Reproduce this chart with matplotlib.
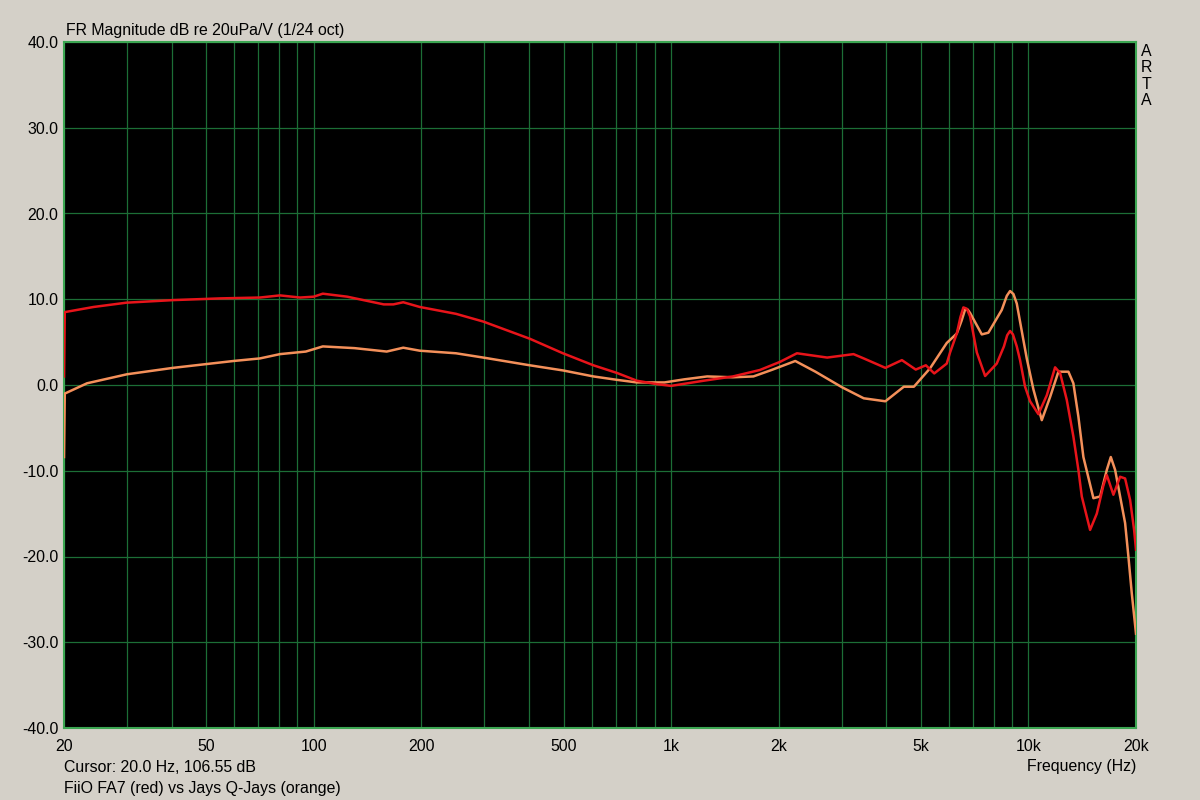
import matplotlib
matplotlib.use("Agg")
import matplotlib.pyplot as plt
from matplotlib.ticker import FixedLocator, NullFormatter, NullLocator

plt.rcParams['font.family'] = ['Liberation Sans', 'DejaVu Sans']

# ---- data ----
red_freq = [20, 20.1, 24.2, 29.9, 40.4, 54.7, 70.7, 80.4, 91.6, 100, 106, 124, 157, 167, 178, 198,
            250, 298, 402, 498, 606, 706, 802, 912, 1000, 1234, 1490, 1772, 2018, 2250, 2734, 3240,
            3460, 3978, 4425, 4838, 5164, 5450, 5908, 6036, 6302, 6450, 6576, 6720, 6866, 7170,
            7565, 8154, 8540, 8720, 8884, 9050, 9276, 9474, 9786, 10106, 10662, 11256, 11874,
            12264, 12804, 13358, 13798, 14104, 14878, 15536, 16212, 16570, 17290, 18054, 18644,
            19254, 19758, 20000]
red_db = [1.0, 8.5, 9.1, 9.6, 9.9, 10.1, 10.2, 10.45, 10.2, 10.3, 10.65, 10.3, 9.4, 9.4, 9.65, 9.1,
          8.3, 7.4, 5.4, 3.7, 2.3, 1.4, 0.5, 0.1, -0.1, 0.5, 1.0, 1.75, 2.7, 3.7, 3.2, 3.6,
          3.1, 2.0, 2.9, 1.8, 2.3, 1.35, 2.5, 3.8, 6.0, 7.9, 9.05, 8.9, 8.0, 3.8,
          1.05, 2.5, 4.5, 5.8, 6.3, 5.9, 4.5, 2.9, -0.2, -1.9, -3.4, -1.2, 2.06,
          1.4, -1.75, -6.0, -9.9, -13.0, -16.9, -15.0, -11.7, -10.5, -12.8, -10.7, -10.9,
          -13.4, -16.9, -19.2]

orange_freq = [20, 20.1, 23.2, 30, 40.4, 59.6, 70.7, 80.4, 95, 106, 130, 160, 178, 198, 250, 298,
               402, 498, 606, 706, 802, 958, 1089, 1262, 1490, 1700, 1910, 2226, 2535, 3010, 3460,
               3978, 4480, 4780, 5306, 5908, 6302, 6500, 6649, 6760, 6866, 7404, 7726, 8420, 8700,
               8884, 9080, 9276, 9680, 9892, 10324, 10898, 11498, 12130, 12938, 13358, 13798, 14250,
               15200, 15870, 16570, 17002, 17482, 18054, 18644, 19044, 19464, 20000]
orange_db = [-8.4, -1.0, 0.2, 1.25, 2.0, 2.8, 3.1, 3.6, 3.9, 4.5, 4.3, 3.9, 4.35, 4.0, 3.7, 3.2,
             2.3, 1.7, 1.0, 0.6, 0.3, 0.3, 0.66, 1.0, 0.9, 1.0, 1.75, 2.8, 1.55, -0.27, -1.55,
             -1.9, -0.2, -0.2, 1.95, 4.9, 6.0, 7.5, 8.8, 8.8, 8.4, 5.9, 6.1, 8.75, 10.4,
             10.96, 10.6, 9.5, 5.25, 3.1, -0.5, -4.1, -1.4, 1.55, 1.55, 0.2, -3.7, -8.4,
             -13.2, -13.0, -9.9, -8.4, -9.9, -13.0, -16.1, -20.0, -24.3, -29.0]

xtick_vals = [20, 50, 100, 200, 500, 1000, 2000, 5000, 10000, 20000]
xtick_labels = ['20', '50', '100', '200', '500', '1k', '2k', '5k', '10k', '20k']
xgrid_vals = [20, 30, 40, 50, 60, 70, 80, 90, 100, 200, 300, 400, 500, 600, 700, 800, 900,
              1000, 2000, 3000, 4000, 5000, 6000, 7000, 8000, 9000, 10000, 20000]
ytick_vals = [-40, -30, -20, -10, 0, 10, 20, 30, 40]

title_text = 'FR Magnitude dB re 20uPa/V (1/24 oct)'
cursor_text = 'Cursor: 20.0 Hz, 106.55 dB'
legend_text = 'FiiO FA7 (red) vs Jays Q-Jays (orange)'
xlabel_text = 'Frequency (Hz)'

# ---- style ----
bg = '#d4d0c8'
grid_col = '#1c6e36'
spine_col = '#3ca652'
red_col = '#e8141a'
orange_col = '#f4905a'
fs = 11.4

fig = plt.figure(figsize=(12, 8), dpi=100, facecolor=bg)
ax = fig.add_axes([64 / 1200, 1 - 728 / 800, 1072 / 1200, 686 / 800])
ax.set_facecolor('black')
ax.set_xscale('log')
ax.set_xlim(20, 20000)
ax.set_ylim(-40, 40)

for f in xgrid_vals:
    ax.axvline(f, color=grid_col, lw=0.9, zorder=1)
for v in ytick_vals:
    ax.axhline(v, color=grid_col, lw=0.9, zorder=1)

ax.plot(orange_freq, orange_db, color=orange_col, lw=1.8, zorder=3, solid_joinstyle='round')
ax.plot(red_freq, red_db, color=red_col, lw=1.8, zorder=4, solid_joinstyle='round')

ax.xaxis.set_major_locator(FixedLocator(xtick_vals))
ax.set_xticklabels(xtick_labels)
ax.xaxis.set_minor_locator(NullLocator())
ax.xaxis.set_minor_formatter(NullFormatter())
ax.set_yticks(ytick_vals)
ax.set_yticklabels(['%.1f' % v for v in ytick_vals])
ax.tick_params(axis='both', length=0, labelsize=fs, colors='black')
ax.tick_params(axis='x', pad=8)
ax.tick_params(axis='y', pad=4)
for s in ax.spines.values():
    s.set_color(spine_col)
    s.set_linewidth(1.5)

fig.text(66 / 1200, 1 - 30 / 800, title_text, fontsize=fs, ha='left', va='center')
fig.text(1146 / 1200, 1 - 44 / 800, 'A\nR\nT\nA', fontsize=fs, ha='center', va='top',
         linespacing=1.12)
fig.text(64 / 1200, 1 - 767 / 800, cursor_text, fontsize=fs, ha='left', va='center')
fig.text(64 / 1200, 1 - 788 / 800, legend_text, fontsize=fs, ha='left', va='center')
fig.text(1136 / 1200, 1 - 767 / 800, xlabel_text, fontsize=fs, ha='right', va='center')

fig.savefig('out.png', dpi=100, facecolor=bg)
